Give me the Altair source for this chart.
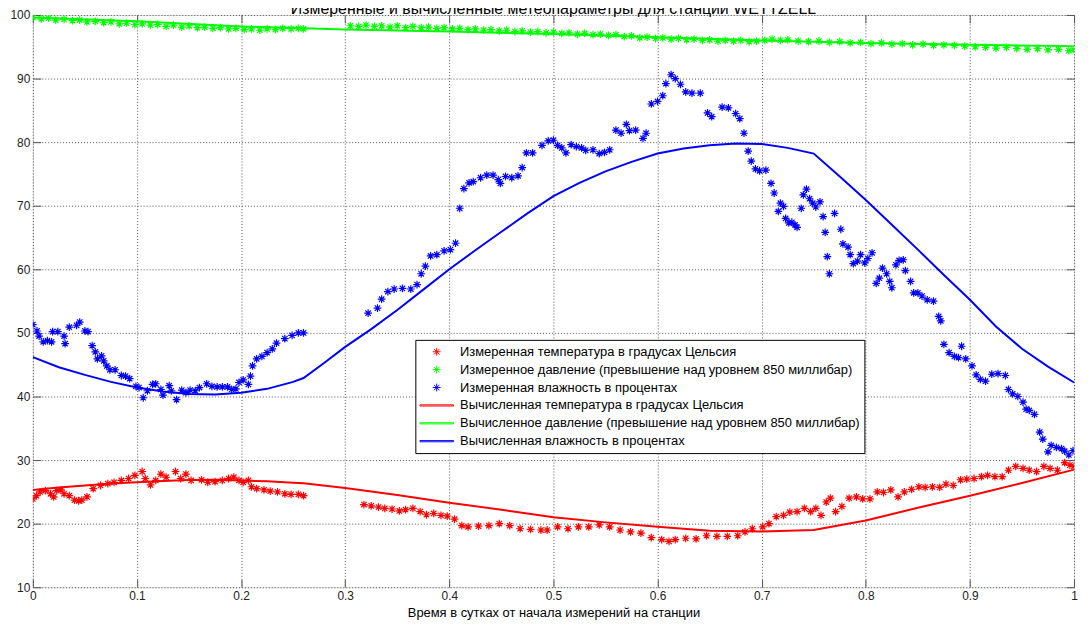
import altair as alt
import pandas as pd

TITLE = "Измеренные и вычисленные метеопараметры для станции WETTZELL"
X_TITLE = "Время в сутках от начала измерений на станции"

SERIES = [
    "Измеренная температура в градусах Цельсия",
    "Измеренное давление (превышение над уровнем 850 миллибар)",
    "Измеренная влажность в процентах",
    "Вычисленная температура в градусах Цельсия",
    "Вычисленное давление (превышение над уровнем 850 миллибар)",
    "Вычисленная влажность в процентах",
]
COLORS = ["#ff0000", "#00ff00", "#0000ff", "#ff0000", "#00ff00", "#0000ff"]

X_TICKS = [0, 0.1, 0.2, 0.3, 0.4, 0.5, 0.6, 0.7, 0.8, 0.9, 1]
Y_TICKS = [10, 20, 30, 40, 50, 60, 70, 80, 90, 100]

# measured temperature
temp_t = [0.000, 0.0035, 0.007, 0.012, 0.017, 0.020, 0.023, 0.027, 0.030, 0.035, 0.040, 0.044, 0.047,
          0.052, 0.058, 0.065, 0.072, 0.078, 0.085, 0.092, 0.098, 0.105, 0.108, 0.113, 0.118, 0.123,
          0.128, 0.137, 0.142, 0.147, 0.152, 0.162, 0.168, 0.175, 0.182, 0.188, 0.193, 0.198, 0.202,
          0.207, 0.210, 0.215, 0.222, 0.228, 0.235, 0.242, 0.248, 0.255, 0.260,
          0.318, 0.325, 0.332, 0.338, 0.345, 0.352, 0.358, 0.365, 0.372, 0.378, 0.385, 0.392, 0.398,
          0.405, 0.412, 0.418, 0.428, 0.438, 0.448, 0.458, 0.468, 0.478, 0.488, 0.494, 0.504, 0.514,
          0.524, 0.534, 0.544, 0.554, 0.564, 0.574, 0.584, 0.594, 0.604, 0.611, 0.617, 0.627, 0.637,
          0.647, 0.657, 0.667, 0.677, 0.684, 0.691, 0.701, 0.707, 0.714, 0.721, 0.727, 0.734, 0.741,
          0.747, 0.752, 0.757, 0.762, 0.766, 0.771, 0.777, 0.784, 0.791, 0.797, 0.804, 0.811, 0.817,
          0.824, 0.831, 0.837, 0.844, 0.851, 0.857, 0.864, 0.871, 0.877, 0.884, 0.891, 0.897, 0.904,
          0.911, 0.917, 0.924, 0.931, 0.937, 0.944, 0.951, 0.957, 0.964, 0.971, 0.977, 0.984, 0.991,
          0.996, 1.000]
temp_v = [23.9, 24.4, 25.0, 25.2, 24.7, 24.2, 25.2, 25.3, 24.7, 24.4, 23.7, 23.6, 23.7,
          24.2, 25.5, 26.0, 26.3, 26.5, 26.8, 27.1, 27.6, 28.2, 27.1, 26.1, 26.8, 27.8,
          27.3, 28.2, 27.1, 27.8, 26.8, 26.9, 26.5, 26.6, 26.8, 27.1, 27.3, 26.8, 26.5,
          26.8, 25.8, 25.5, 25.3, 25.1, 25.0, 24.7, 24.6, 24.6, 24.4,
          23.0, 22.8, 22.6, 22.4, 22.3, 22.0, 22.2, 22.4, 21.9, 21.4, 21.6, 21.3, 21.2,
          20.7, 19.7, 19.5, 19.6, 19.7, 20.0, 19.7, 19.2, 19.1, 19.0, 19.0, 19.5, 19.2,
          19.5, 19.5, 19.8, 19.5, 19.0, 18.7, 18.5, 17.8, 17.5, 17.2, 17.5, 17.7, 17.6,
          18.1, 18.0, 18.0, 18.1, 18.7, 19.2, 19.5, 20.0, 21.1, 21.3, 21.8, 21.9, 22.4,
          21.9, 22.4, 21.3, 23.4, 24.0, 21.9, 22.7, 24.0, 24.2, 23.9, 23.9, 25.0, 24.9,
          25.3, 24.2, 25.0, 25.4, 25.8, 25.7, 25.8, 25.7, 26.2, 26.0, 26.9, 27.0, 27.1,
          27.4, 27.6, 27.4, 27.4, 28.4, 29.0, 28.7, 28.4, 28.2, 29.0, 28.7, 28.4, 29.6,
          29.2, 29.0]

# measured pressure
pres_t = [0.000, 0.008, 0.015, 0.022, 0.030, 0.038, 0.045, 0.052, 0.060, 0.068, 0.075, 0.083, 0.090,
          0.098, 0.105, 0.113, 0.120, 0.128, 0.135, 0.143, 0.150, 0.158, 0.165, 0.173, 0.180, 0.188,
          0.195, 0.203, 0.210, 0.218, 0.225, 0.233, 0.240, 0.248, 0.255, 0.260,
          0.305, 0.313, 0.320, 0.328, 0.335, 0.343, 0.350, 0.358, 0.365, 0.373, 0.380, 0.388, 0.395,
          0.403, 0.410, 0.418, 0.425, 0.433, 0.440, 0.448, 0.455, 0.463, 0.470, 0.478, 0.485, 0.493,
          0.500, 0.508, 0.515, 0.523, 0.530, 0.538, 0.545, 0.553, 0.560, 0.568, 0.575, 0.583, 0.590,
          0.598, 0.605, 0.613, 0.620, 0.628, 0.635, 0.643, 0.650, 0.658, 0.665, 0.673, 0.680, 0.688,
          0.695, 0.703, 0.710, 0.718, 0.725, 0.735, 0.745, 0.755, 0.765, 0.775, 0.785, 0.795, 0.805,
          0.815, 0.825, 0.835, 0.845, 0.855, 0.865, 0.875, 0.885, 0.895, 0.905, 0.915, 0.925, 0.935,
          0.945, 0.955, 0.965, 0.975, 0.985, 0.995, 1.000]
pres_v = [99.6, 99.4, 99.5, 99.2, 99.3, 99.1, 99.2, 98.9, 99.0, 98.8, 98.9, 98.6, 98.7,
          98.5, 98.6, 98.4, 98.5, 98.2, 98.4, 98.1, 98.3, 98.0, 98.1, 97.9, 98.0, 97.8,
          97.9, 97.7, 97.8, 97.6, 97.8, 97.7, 97.9, 97.8, 97.9, 97.8,
          98.3, 98.2, 98.4, 98.2, 98.3, 98.1, 98.3, 98.0, 98.2, 98.0, 98.1, 97.9, 98.0,
          97.8, 97.9, 97.7, 97.8, 97.6, 97.7, 97.5, 97.6, 97.4, 97.5, 97.3, 97.4, 97.2,
          97.3, 97.1, 97.2, 97.0, 97.1, 96.9, 97.0, 96.8, 96.9, 96.6, 96.7, 96.4, 96.5,
          96.3, 96.4, 96.2, 96.3, 96.1, 96.2, 96.0, 96.1, 95.9, 96.0, 95.9, 96.0, 95.8,
          95.9, 96.0, 96.2, 96.0, 96.1, 95.9, 95.8, 95.9, 95.7, 95.8, 95.6, 95.7, 95.5,
          95.6, 95.4, 95.5, 95.3, 95.4, 95.2, 95.3, 95.2, 95.1, 95.0, 94.9, 94.8, 94.9,
          94.7, 94.6, 94.7, 94.5, 94.6, 94.4, 94.5]

# measured humidity
hum_t = [0.000, 0.004, 0.006, 0.010, 0.014, 0.018, 0.019, 0.024, 0.030, 0.031, 0.035, 0.042, 0.045,
         0.050, 0.053, 0.057, 0.060, 0.062, 0.066, 0.068, 0.071, 0.074, 0.079, 0.085, 0.089, 0.093,
         0.099, 0.102, 0.106, 0.110, 0.115, 0.118, 0.123, 0.125, 0.131, 0.133, 0.138, 0.143, 0.147,
         0.151, 0.156, 0.160, 0.167, 0.172, 0.177, 0.182, 0.187, 0.191, 0.195, 0.198, 0.202, 0.207,
         0.209, 0.211, 0.215, 0.220, 0.225, 0.230, 0.234, 0.242, 0.249, 0.255, 0.260,
         0.322, 0.331, 0.335, 0.341, 0.347, 0.355, 0.363, 0.369, 0.373, 0.377, 0.382, 0.388, 0.395,
         0.401, 0.406, 0.410, 0.414, 0.419, 0.423, 0.430, 0.436, 0.442, 0.447, 0.449, 0.454, 0.460,
         0.466, 0.470, 0.474, 0.480, 0.489, 0.495, 0.500, 0.504, 0.508, 0.512, 0.517, 0.522, 0.527,
         0.531, 0.538, 0.544, 0.549, 0.554, 0.560, 0.565, 0.570, 0.573, 0.579, 0.586, 0.589, 0.594,
         0.600, 0.605, 0.608, 0.613, 0.617, 0.622, 0.627, 0.633, 0.641, 0.648, 0.652, 0.662, 0.668,
         0.675, 0.679, 0.683, 0.687, 0.690, 0.694, 0.698, 0.704, 0.709, 0.712, 0.716, 0.718, 0.721,
         0.723, 0.726, 0.729, 0.732, 0.734, 0.738, 0.740, 0.743, 0.746, 0.749, 0.752, 0.756, 0.759,
         0.761, 0.763, 0.765, 0.770, 0.776, 0.778, 0.783, 0.785, 0.788, 0.792, 0.795, 0.799, 0.802,
         0.806, 0.810, 0.813, 0.816, 0.820, 0.823, 0.825, 0.829, 0.832, 0.836, 0.838, 0.843, 0.846,
         0.850, 0.854, 0.859, 0.865, 0.870, 0.872, 0.875, 0.880, 0.885, 0.889, 0.892, 0.896, 0.902,
         0.906, 0.910, 0.915, 0.921, 0.927, 0.934, 0.937, 0.941, 0.946, 0.951, 0.954, 0.957, 0.962,
         0.967, 0.970, 0.975, 0.978, 0.983, 0.988, 0.991, 0.995, 0.999]
hum_v = [51.3, 50.3, 49.5, 48.6, 48.8, 48.6, 50.2, 50.2, 49.5, 48.3, 50.9, 51.2, 51.7,
         50.3, 50.2, 48.0, 47.0, 45.9, 46.4, 45.6, 44.8, 44.2, 44.2, 43.3, 43.2, 42.8,
         41.6, 41.4, 39.8, 40.9, 41.9, 42.0, 41.1, 40.2, 41.7, 40.9, 39.5, 41.0, 40.6,
         41.0, 40.9, 41.4, 42.0, 41.6, 41.5, 41.5, 41.5, 41.1, 41.2, 42.2, 42.6, 41.9,
         43.2, 44.8, 45.9, 46.3, 46.9, 47.5, 48.4, 49.1, 49.6, 50.0, 50.0,
         53.1, 53.9, 55.3, 56.5, 56.9, 57.0, 56.9, 57.6, 59.3, 60.5, 62.1, 62.3, 62.9,
         63.1, 64.1, 69.6, 72.7, 73.6, 73.8, 74.4, 74.8, 74.8, 74.1, 73.5, 74.6, 74.4,
         74.7, 76.0, 78.3, 78.3, 79.5, 80.2, 80.3, 79.5, 79.1, 78.3, 79.6, 79.3, 79.1,
         78.7, 78.8, 78.2, 78.4, 78.8, 81.9, 81.4, 82.8, 81.8, 81.9, 80.6, 81.4, 86.0,
         86.4, 87.3, 89.2, 90.6, 90.0, 89.1, 87.9, 87.7, 87.7, 84.6, 84.0, 85.5, 85.4,
         84.5, 83.7, 81.4, 78.6, 77.0, 75.8, 75.5, 75.6, 73.5, 72.0, 69.1, 70.4, 69.9,
         68.0, 67.3, 67.4, 67.0, 66.6, 69.6, 71.7, 72.6, 71.1, 70.4, 69.8, 70.6, 68.3,
         65.8, 62.0, 59.3, 68.8, 66.3, 64.0, 63.5, 62.3, 60.9, 61.3, 62.3, 61.0, 61.7,
         62.6, 57.8, 58.6, 60.2, 59.3, 58.1, 57.1, 60.7, 61.4, 61.5, 59.8, 58.1, 56.3,
         56.3, 55.8, 55.2, 55.0, 52.6, 51.9, 48.2, 46.9, 46.3, 46.1, 47.9, 45.9, 44.8,
         43.4, 42.7, 42.4, 43.5, 43.6, 43.3, 41.1, 40.4, 40.0, 39.1, 38.0, 37.8, 37.2,
         34.4, 33.3, 31.3, 32.3, 32.0, 31.8, 31.4, 30.8, 31.5]

# computed curves
ctemp_t = [0.000, 0.025, 0.050, 0.075, 0.100, 0.125, 0.150, 0.175, 0.200, 0.225, 0.250, 0.260,
           0.300, 0.350, 0.400, 0.450, 0.500, 0.550, 0.600, 0.650, 0.700, 0.750, 0.800, 0.850,
           0.900, 0.950, 1.000]
ctemp_v = [25.3, 25.7, 26.0, 26.3, 26.5, 26.7, 26.85, 26.9, 26.8, 26.65, 26.45, 26.35,
           25.6, 24.5, 23.3, 22.2, 21.0, 20.2, 19.5, 18.9, 18.75, 19.0, 20.5, 22.5,
           24.4, 26.4, 28.5]
cpres_t = [0.0, 0.1, 0.2, 0.26, 0.3, 0.4, 0.5, 0.6, 0.7, 0.8, 0.9, 1.0]
cpres_v = [99.6, 99.0, 98.2, 97.9, 97.7, 97.4, 97.0, 96.5, 96.0, 95.6, 95.3, 95.1]
chum_t = [0.000, 0.025, 0.050, 0.075, 0.100, 0.125, 0.150, 0.175, 0.200, 0.225, 0.250, 0.260,
          0.280, 0.300, 0.325, 0.350, 0.375, 0.400, 0.425, 0.450, 0.475, 0.500, 0.525, 0.550,
          0.575, 0.600, 0.625, 0.650, 0.675, 0.700, 0.725, 0.750, 0.775, 0.800, 0.825, 0.850,
          0.875, 0.900, 0.925, 0.950, 0.975, 1.000]
chum_v = [46.2, 44.6, 43.4, 42.3, 41.4, 40.8, 40.4, 40.3, 40.6, 41.2, 42.3, 42.9,
          45.3, 47.8, 50.6, 53.6, 56.8, 60.0, 63.0, 65.9, 68.8, 71.5, 73.6, 75.4,
          76.9, 78.2, 79.0, 79.5, 79.8, 79.7, 79.1, 78.2, 74.6, 70.9, 67.0, 63.1,
          59.1, 55.2, 51.0, 47.5, 44.7, 42.2]

rows = []
for name, ts, vs in [(SERIES[0], temp_t, temp_v), (SERIES[1], pres_t, pres_v), (SERIES[2], hum_t, hum_v)]:
    for t, v in zip(ts, vs):
        rows.append({"t": t, "v": v, "series": name})
meas = pd.DataFrame(rows)

rows = []
for name, ts, vs in [(SERIES[3], ctemp_t, ctemp_v), (SERIES[4], cpres_t, cpres_v), (SERIES[5], chum_t, chum_v)]:
    for t, v in zip(ts, vs):
        rows.append({"t": t, "v": v, "series": name})
calc = pd.DataFrame(rows)

# symbols drawn at a common large symbol size (34 px box): small asterisk, long bar
AST = "M-0.23,0L0.23,0M0,-0.23L0,0.23M-0.16,-0.16L0.16,0.16M-0.16,0.16L0.16,-0.16"
BAR = "M-1,-0.035L1,-0.035L1,0.035L-1,0.035Z"
SYM_SIZE = 1156
FONT = "Liberation Sans, Arial, Helvetica, sans-serif"

xscale = alt.Scale(domain=[0, 1], nice=False, zero=False)
yscale = alt.Scale(domain=[10, 100], nice=False, zero=False)

tick_common = dict(domain=False, ticks=True, tickSize=8, offset=-8, tickColor="#555555", tickWidth=1)

x_bottom = alt.Axis(values=X_TICKS, format="~g", grid=True, gridDash=[1, 2], gridColor="#555555",
                    labelPadding=3, labelFontSize=12, labelFont=FONT, labelColor="#222222",
                    title=X_TITLE, titleFont=FONT, titleFontSize=13, titleFontWeight="normal",
                    titleColor="#000000", titlePadding=5, labelFlush=False, **tick_common)
y_left = alt.Axis(values=Y_TICKS, grid=True, gridDash=[1, 2], gridColor="#555555",
                  labelPadding=3, labelFontSize=12, labelFont=FONT, labelColor="#222222",
                  title=None, labelFlush=False, **tick_common)
x_top = alt.Axis(orient="top", values=X_TICKS, grid=False, labels=False, title=None, **tick_common)
y_right = alt.Axis(orient="right", values=Y_TICKS, grid=False, labels=False, title=None, **tick_common)

LEG = alt.Legend(title=None, orient="none", legendX=385, legendY=327,
                 direction="vertical", fillColor="white",
                 strokeColor="#000000", padding=4, cornerRadius=0,
                 labelFont=FONT, labelFontSize=13, labelColor="#000000",
                 labelLimit=600, labelOffset=6, clipHeight=16, rowPadding=2,
                 symbolOpacity=1, symbolSize=SYM_SIZE, symbolStrokeWidth=1)

color_enc = alt.Color("series:N", scale=alt.Scale(domain=SERIES, range=COLORS), legend=LEG)
shape_enc = alt.Shape("series:N", scale=alt.Scale(domain=SERIES, range=[AST, AST, AST, BAR, BAR, BAR]))

pts = alt.Chart(meas).mark_point(filled=False, clip=True, opacity=1, size=SYM_SIZE, strokeWidth=1.2).encode(
    x=alt.X("t:Q", scale=xscale, axis=x_bottom),
    y=alt.Y("v:Q", scale=yscale, axis=y_left),
    color=color_enc, shape=shape_enc,
)

lines = alt.Chart(calc).mark_line(strokeWidth=2, clip=True).encode(
    x=alt.X("t:Q", scale=xscale, axis=x_top),
    y=alt.Y("v:Q", scale=yscale, axis=y_right),
    color=alt.Color("series:N", scale=alt.Scale(domain=SERIES, range=COLORS)),
)

chart = alt.layer(pts, lines).resolve_axis(x="independent", y="independent").properties(
    width=1048, height=576,
    autosize=alt.AutoSizeParams(type="none"),
    padding={"left": 25, "top": 5, "right": 6, "bottom": 36},
    title=alt.TitleParams(text=TITLE, font=FONT, fontSize=16, fontWeight="normal", color="#000000",
                          anchor="middle", offset=1, dy=9),
).configure_view(stroke="#262626", strokeWidth=1).configure(background="white")

chart.save("out.html", embed_options={"renderer": "svg", "actions": False})
